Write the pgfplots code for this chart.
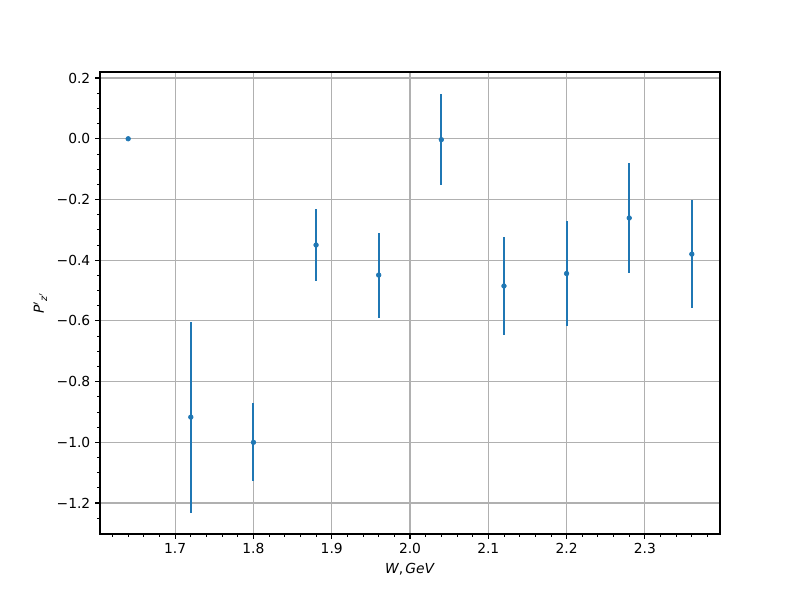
\documentclass[border=0pt]{standalone}
\usepackage{fontspec}
\setmainfont{DejaVu Sans}
\usepackage{pgfplots}
\pgfplotsset{compat=1.18}
\definecolor{mplblue}{HTML}{1F77B4}
\definecolor{mplgrid}{HTML}{B0B0B0}

\pgfplotstableread{
x     y      e
1.64  0.000  0.000
1.72  -0.917 0.315
1.80  -1.000 0.128
1.88  -0.350 0.119
1.96  -0.449 0.140
2.04  -0.003 0.150
2.12  -0.485 0.161
2.20  -0.444 0.173
2.28  -0.261 0.180
2.36  -0.380 0.178
}\pz

\begin{document}
\begin{tikzpicture}
\begin{axis}[
    scale only axis,
    width=6.2in, height=4.62in,
    xmin=1.604, xmax=2.396,
    ymin=-1.302, ymax=0.22,
    xtick={1.7,1.8,1.9,2.0,2.1,2.2,2.3},
    xticklabels={1.7,1.8,1.9,2.0,2.1,2.2,2.3},
    ytick={-1.2,-1.0,-0.8,-0.6,-0.4,-0.2,0.0,0.2},
    yticklabels={−1.2,−1.0,−0.8,−0.6,−0.4,−0.2,0.0,0.2},
    minor xtick={1.62,1.64,1.66,1.68,1.72,1.74,1.76,1.78,1.82,1.84,1.86,1.88,1.92,1.94,1.96,1.98,2.02,2.04,2.06,2.08,2.12,2.14,2.16,2.18,2.22,2.24,2.26,2.28,2.32,2.34,2.36,2.38},
    minor ytick={-1.25,-1.15,-1.1,-1.05,-0.95,-0.9,-0.85,-0.75,-0.7,-0.65,-0.55,-0.5,-0.45,-0.35,-0.3,-0.25,-0.15,-0.1,-0.05,0.05,0.1,0.15},
    tick align=outside,
    xtick pos=bottom, ytick pos=left,
    major tick length=3.5pt, minor tick length=2pt,
    every tick/.style={black, line width=0.8pt},
    minor tick style={black, line width=0.6pt},
    axis line style={line width=0.8pt},
    xmajorgrids, ymajorgrids,
    major grid style={mplgrid, line width=0.8pt},
    ticklabel style={font=\fontsize{10}{12}\selectfont},
    label style={font=\fontsize{10}{12}\selectfont},
    xlabel={\textit{W},\,\textit{GeV}},
    ylabel={\textit{P}$^{\prime}$\textsubscript{\textit{z}$^{\prime}$}},
    clip=false,
]
\addplot[mplblue, only marks, mark=*, mark size=1.7pt,
    error bars/.cd, y dir=both, y explicit, error mark=none,
    error bar style={mplblue, line width=1.5pt}]
    table[x=x, y=y, y error=e] {\pz};
\path (rel axis cs:-0.1613,-0.1429) rectangle (rel axis cs:1.129,1.1558);
\end{axis}
\end{tikzpicture}
\end{document}
